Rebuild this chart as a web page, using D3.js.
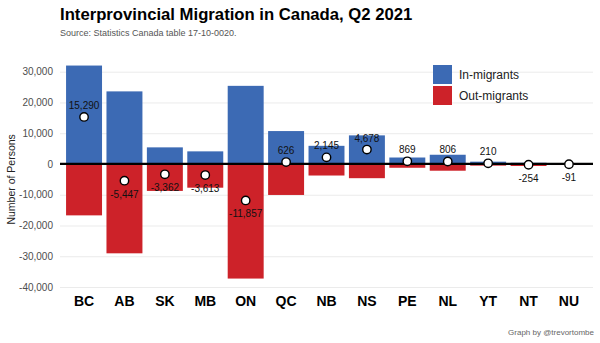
<!DOCTYPE html>
<html>
<head>
<meta charset="utf-8">
<script src="https://cdn.jsdelivr.net/npm/d3@7"></script>
<style>
  html, body { margin: 0; padding: 0; background: #fff; }
  svg { display: block; font-family: "Liberation Sans", Arial, sans-serif; }
</style>
</head>
<body>
<div id="chart"></div>
<script>
(function () {
  const provinces = ["BC", "AB", "SK", "MB", "ON", "QC", "NB", "NS", "PE", "NL", "YT", "NT", "NU"];
  const inMigrants = [32000, 23600, 5400, 4100, 25400, 10700, 5900, 9300, 2100, 3000, 750, 400, 250];
  const outMigrants = [16710, 29047, 8762, 7713, 37257, 10074, 3755, 4622, 1231, 2194, 540, 654, 341];
  const netMigration = [15290, -5447, -3362, -3613, -11857, 626, 2145, 4678, 869, 806, 210, -254, -91];
  const yTicks = [-40000, -30000, -20000, -10000, 0, 10000, 20000, 30000];

  const width = 600;
  const height = 343;
  const left = 60;
  const right = 593;
  const blue = "#3c6ab4";
  const red = "#cd2229";

  const rows = provinces.map((code, i) => ({
    code,
    inflow: inMigrants[i],
    outflow: outMigrants[i],
    net: netMigration[i]
  }));

  const svg = d3.select("#chart")
    .append("svg")
    .attr("width", width)
    .attr("height", height);

  const x = d3.scaleBand()
    .domain(provinces)
    .range([left, right])
    .paddingInner(0.11)
    .paddingOuter(0.15);

  const y = d3.scaleLinear()
    .domain([-40000, 30000])
    .range([287, 71.7]);

  // plain hyphen for negatives, not the unicode minus
  const comma = d3.format(",");
  const fmt = (v) => comma(v).replace("\u2212", "-");

  // title block
  svg.append("text")
    .attr("x", left)
    .attr("y", 20)
    .attr("font-size", 16.7)
    .attr("font-weight", "bold")
    .attr("fill", "#000")
    .text("Interprovincial Migration in Canada, Q2 2021");

  svg.append("text")
    .attr("x", left)
    .attr("y", 36)
    .attr("font-size", 9)
    .attr("fill", "#555")
    .text("Source: Statistics Canada table 17-10-0020.");

  // gridlines and y labels
  const yAxis = svg.append("g")
    .attr("transform", `translate(${left},0)`)
    .call(d3.axisLeft(y).tickValues(yTicks).tickFormat(fmt).tickSize(-(right - left)).tickPadding(7));

  yAxis.select(".domain").remove();
  yAxis.selectAll(".tick line").attr("stroke", "#ebebeb").attr("stroke-width", 1);
  yAxis.selectAll(".tick text")
    .attr("font-size", 10)
    .attr("fill", "#4d4d4d")
    .attr("font-family", "'Liberation Sans', Arial, sans-serif");

  svg.append("text")
    .attr("transform", `translate(15,${(y(30000) + y(-40000)) / 2}) rotate(-90)`)
    .attr("text-anchor", "middle")
    .attr("font-size", 10.5)
    .attr("fill", "#222")
    .text("Number of Persons");

  // in / out bars
  svg.append("g").selectAll("rect")
    .data(rows)
    .join("rect")
    .attr("x", (d) => x(d.code))
    .attr("width", x.bandwidth())
    .attr("y", (d) => y(d.inflow))
    .attr("height", (d) => y(0) - y(d.inflow))
    .attr("fill", blue);

  svg.append("g").selectAll("rect")
    .data(rows)
    .join("rect")
    .attr("x", (d) => x(d.code))
    .attr("width", x.bandwidth())
    .attr("y", y(0))
    .attr("height", (d) => y(-d.outflow) - y(0))
    .attr("fill", red);

  // zero line
  svg.append("line")
    .attr("x1", left)
    .attr("x2", right)
    .attr("y1", y(0))
    .attr("y2", y(0))
    .attr("stroke", "#000")
    .attr("stroke-width", 2.2);

  // net points and labels
  const cx = (d) => x(d.code) + x.bandwidth() / 2;

  svg.append("g").selectAll("circle")
    .data(rows)
    .join("circle")
    .attr("cx", cx)
    .attr("cy", (d) => y(d.net))
    .attr("r", 4.2)
    .attr("fill", "#fff")
    .attr("stroke", "#000")
    .attr("stroke-width", 1.4);

  svg.append("g").selectAll("text")
    .data(rows)
    .join("text")
    .attr("x", cx)
    .attr("y", (d) => d.net >= 0 ? y(d.net) - 8 : y(d.net) + 17)
    .attr("text-anchor", "middle")
    .attr("font-size", 10)
    .attr("fill", "#111")
    .text((d) => fmt(d.net));

  // x labels
  svg.append("g").selectAll("text")
    .data(rows)
    .join("text")
    .attr("x", cx)
    .attr("y", 306)
    .attr("text-anchor", "middle")
    .attr("font-size", 14)
    .attr("font-weight", "bold")
    .attr("fill", "#000")
    .text((d) => d.code);

  // legend
  const legend = svg.append("g").attr("transform", "translate(433,65)");
  [["In-migrants", blue], ["Out-migrants", red]].forEach(([label, color], i) => {
    legend.append("rect")
      .attr("x", 0)
      .attr("y", i * 21)
      .attr("width", 19)
      .attr("height", 19)
      .attr("fill", color);
    legend.append("text")
      .attr("x", 26)
      .attr("y", i * 21 + 14)
      .attr("font-size", 12)
      .attr("fill", "#222")
      .text(label);
  });

  svg.append("text")
    .attr("x", 594)
    .attr("y", 335)
    .attr("text-anchor", "end")
    .attr("font-size", 8)
    .attr("fill", "#666")
    .text("Graph by @trevortombe");
}());
</script>
</body>
</html>
